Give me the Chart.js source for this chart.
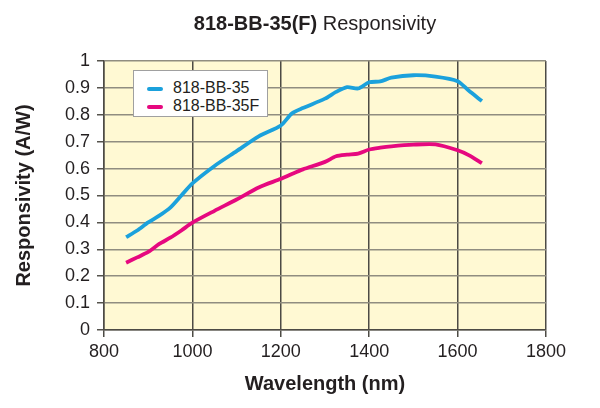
<!DOCTYPE html>
<html>
<head>
<meta charset="utf-8">
<script src="https://cdn.jsdelivr.net/npm/chart.js@4"></script>
<style>
  body { margin: 0; background: #fff; font-family: "Liberation Sans", Arial, sans-serif; }
  #wrap { position: relative; width: 600px; height: 408px; }
  #title { position: absolute; top: 12px; left: 0; width: 630px; text-align: center; font-size: 20px; color: #231f20; }
  #legend { position: absolute; left: 133px; top: 70px; width: 133px; height: 45px; background: #fff; border: 1px solid #a0a0a0; font-size: 16px; color: #231f20; }
  #legend .row { position: absolute; left: 13px; height: 18px; line-height: 18px; white-space: nowrap; }
  #legend .swatch { display: inline-block; width: 16px; height: 4px; vertical-align: middle; margin-right: 10px; border-radius: 2px; }
</style>
</head>
<body>
<div id="wrap">
  <canvas id="chart" width="600" height="408"></canvas>
  <div id="title"><b>818-BB-35(F)</b> Responsivity</div>
  <div id="legend"></div>
</div>
<script>
const wavelengths = [850, 875, 900, 925, 950, 975, 1000, 1050, 1100, 1150, 1200, 1225, 1250, 1300, 1325, 1350, 1375, 1400, 1425, 1450, 1500, 1550, 1600, 1625, 1655];
const bb35 = [0.345, 0.37, 0.40, 0.425, 0.455, 0.50, 0.545, 0.61, 0.665, 0.72, 0.76, 0.805, 0.825, 0.86, 0.885, 0.903, 0.898, 0.921, 0.924, 0.938, 0.947, 0.942, 0.925, 0.89, 0.851];
const bb35f = [0.25, 0.27, 0.29, 0.32, 0.343, 0.37, 0.399, 0.443, 0.485, 0.53, 0.562, 0.58, 0.597, 0.625, 0.646, 0.652, 0.656, 0.671, 0.678, 0.683, 0.689, 0.69, 0.668, 0.65, 0.62];
const seriesNames = ["818-BB-35", "818-BB-35F"];
const seriesColors = ["#1ba1dc", "#e6087f"];
const xTicks = [800, 1000, 1200, 1400, 1600, 1800];
const yTickLabels = ["0", "0.1", "0.2", "0.3", "0.4", "0.5", "0.6", "0.7", "0.8", "0.9", "1"];

const plotBg = {
  id: "plotBg",
  beforeDraw(chart) {
    const a = chart.chartArea;
    chart.ctx.save();
    chart.ctx.fillStyle = "#fff9d3";
    chart.ctx.fillRect(a.left, a.top, a.right - a.left, a.bottom - a.top);
    chart.ctx.restore();
  }
};

const toPoints = vals => vals.map((v, i) => ({ x: wavelengths[i], y: v }));

const chart = new Chart(document.getElementById("chart"), {
  type: "line",
  data: {
    datasets: [bb35, bb35f].map((vals, i) => ({
      label: seriesNames[i],
      data: toPoints(vals),
      borderColor: seriesColors[i],
      borderWidth: 3.8,
      pointRadius: 0,
      tension: 0.25,
      fill: false
    }))
  },
  options: {
    responsive: false,
    animation: false,
    layout: { padding: { top: 61, right: 54, left: 0, bottom: 0 } },
    plugins: { legend: { display: false }, tooltip: { enabled: false } },
    scales: {
      x: {
        type: "linear",
        min: 800,
        max: 1800,
        afterBuildTicks: s => { s.ticks = xTicks.map(v => ({ value: v })); },
        afterFit: s => { s.height = 78; },
        grid: { color: "#4d4b45", lineWidth: 1.5, tickLength: 7, tickColor: "#4d4b45" },
        border: { color: "#4d4b45", width: 1.5 },
        ticks: {
          color: "#231f20", font: { size: 18, family: "Liberation Sans" }, padding: 4, maxRotation: 0,
          callback: v => String(v)
        },
        title: { display: true, text: "Wavelength (nm)", color: "#231f20", font: { size: 20, weight: "bold", family: "Liberation Sans" }, padding: { bottom: 12 } }
      },
      y: {
        min: 0,
        max: 1,
        ticks: {
          stepSize: 0.1, color: "#231f20", font: { size: 18, family: "Liberation Sans" }, padding: 7,
          callback: (v, i) => yTickLabels[i]
        },
        afterFit: s => { s.width = 104; },
        grid: { color: "#908d80", lineWidth: 1.5, tickLength: 7, tickColor: "#55534c" },
        border: { color: "#4d4b45", width: 1.5 },
        title: { display: true, text: "Responsivity (A/W)", color: "#231f20", font: { size: 20, weight: "bold", family: "Liberation Sans" }, padding: { top: 12 } }
      }
    }
  },
  plugins: [plotBg]
});

// legend as html, built from the datasets
const legend = document.getElementById("legend");
chart.data.datasets.forEach((ds, i) => {
  const row = document.createElement("div");
  row.className = "row";
  row.style.top = (8 + i * 18) + "px";
  row.innerHTML = '<span class="swatch" style="background:' + ds.borderColor + '"></span>' + ds.label;
  legend.appendChild(row);
});
</script>
</body>
</html>
